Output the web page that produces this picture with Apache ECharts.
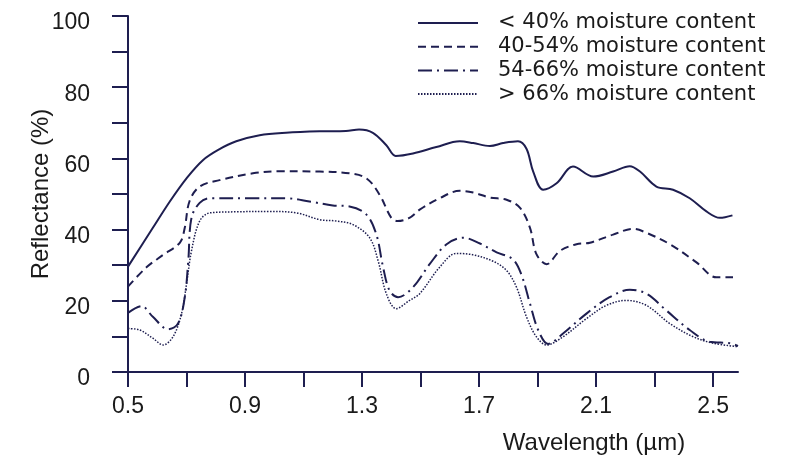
<!DOCTYPE html>
<html>
<head>
<meta charset="utf-8">
<script src="https://cdn.jsdelivr.net/npm/echarts@6/dist/echarts.min.js"></script>
<style>
  html, body { margin: 0; padding: 0; background: #ffffff; }
  #chart { width: 810px; height: 460px; }
</style>
</head>
<body>
<div id="chart"></div>
<script>
// ---- Data ----
const seriesNames = ['< 40% moisture content', '40-54% moisture content', '54-66% moisture content', '> 66% moisture content'];

const xTickValues = [0.5, 0.7, 0.9, 1.1, 1.3, 1.5, 1.7, 1.9, 2.1, 2.3, 2.5];
const xLabelValues = [0.5, 0.9, 1.3, 1.7, 2.1, 2.5];
const yTickValues = [0, 10, 20, 30, 40, 50, 60, 70, 80, 90, 100];
const yLabelValues = [0, 20, 40, 60, 80, 100];

const solidX = [0.5, 0.585, 0.643, 0.70, 0.756, 0.813, 0.87, 0.95, 1.04, 1.155, 1.245, 1.29, 1.337, 1.383, 1.415, 1.474, 1.554, 1.634, 1.68, 1.737, 1.782, 1.833, 1.862, 1.885, 1.919, 1.965, 2.021, 2.09, 2.158, 2.215, 2.25, 2.306, 2.363, 2.42, 2.477, 2.523, 2.566];
const solidY = [29.6, 40.5, 47.9, 54.4, 59.5, 62.6, 64.8, 66.5, 67.2, 67.6, 67.7, 68.1, 67.2, 63.7, 60.7, 61.4, 63.2, 64.8, 64.3, 63.5, 64.3, 64.8, 62.7, 56.3, 51.2, 53.0, 57.7, 54.9, 56.3, 57.8, 56.3, 52.1, 51.2, 48.8, 45.1, 43.3, 44.0];

const dashX = [0.5, 0.563, 0.62, 0.677, 0.694, 0.71, 0.745, 0.813, 0.927, 1.018, 1.155, 1.257, 1.315, 1.36, 1.40, 1.422, 1.462, 1.497, 1.565, 1.634, 1.68, 1.737, 1.794, 1.84, 1.874, 1.896, 1.931, 1.976, 2.033, 2.079, 2.158, 2.227, 2.272, 2.352, 2.443, 2.511, 2.568];
const dashY = [24.0, 29.4, 32.9, 36.3, 40.5, 47.9, 52.1, 53.9, 55.8, 56.4, 56.3, 55.8, 54.4, 49.8, 43.3, 42.4, 43.3, 45.6, 48.8, 50.9, 50.4, 49.0, 48.4, 46.1, 40.5, 33.1, 30.3, 34.0, 35.9, 36.3, 38.6, 40.2, 39.1, 35.9, 30.8, 26.6, 26.6];

const dashDotX = [0.5, 0.546, 0.585, 0.637, 0.671, 0.694, 0.706, 0.717, 0.745, 0.78, 0.927, 1.04, 1.12, 1.20, 1.257, 1.315, 1.349, 1.372, 1.394, 1.423, 1.474, 1.531, 1.589, 1.646, 1.703, 1.76, 1.815, 1.844, 1.874, 1.902, 1.936, 1.987, 2.067, 2.146, 2.215, 2.272, 2.34, 2.42, 2.488, 2.557, 2.585];
const dashDotY = [16.6, 18.5, 15.5, 12.0, 13.6, 21.0, 31.2, 43.3, 47.5, 48.8, 48.8, 48.8, 47.9, 46.8, 46.5, 44.2, 38.6, 29.4, 22.9, 21.0, 23.8, 30.3, 35.9, 37.7, 36.1, 33.6, 31.7, 27.5, 19.2, 11.8, 7.9, 10.8, 16.4, 21.0, 23.1, 22.0, 17.3, 11.8, 8.5, 8.1, 7.3];

const dotX = [0.5, 0.54, 0.585, 0.62, 0.654, 0.683, 0.70, 0.717, 0.745, 0.78, 0.87, 0.984, 1.076, 1.155, 1.212, 1.269, 1.326, 1.355, 1.383, 1.417, 1.462, 1.497, 1.565, 1.622, 1.68, 1.748, 1.794, 1.828, 1.862, 1.896, 1.931, 1.987, 2.067, 2.135, 2.203, 2.272, 2.352, 2.432, 2.50, 2.585];
const dotY = [12.2, 11.8, 9.5, 7.6, 9.9, 16.4, 24.7, 34.0, 42.4, 44.7, 45.0, 45.1, 44.7, 42.8, 42.4, 41.4, 37.7, 31.2, 22.0, 17.8, 20.1, 22.0, 29.4, 33.3, 32.9, 31.1, 28.5, 23.8, 15.5, 9.9, 7.6, 9.9, 15.0, 18.7, 20.1, 18.7, 13.6, 9.9, 8.1, 7.1];

// ---- Chart ----
const NAVY = '#1e1e50';
const TEXT = '#1a1a1a';
const pairs = (xs, ys) => xs.map((x, i) => [x, ys[i]]);

const chart = echarts.init(document.getElementById('chart'), null, { renderer: 'canvas' });

function lineSeries(name, xs, ys, type, width) {
  return {
    name: name,
    type: 'line',
    data: pairs(xs, ys),
    smooth: 0.35,
    symbol: 'none',
    showSymbol: false,
    animation: false,
    lineStyle: { color: NAVY, width: width, type: type, cap: 'butt' },
    itemStyle: { color: NAVY }
  };
}

chart.setOption({
  backgroundColor: '#ffffff',
  animation: false,
  grid: { left: 128, right: 72, top: 16, bottom: 84.5, containLabel: false },
  legend: {
    orient: 'vertical',
    left: 412,
    top: 7,
    itemWidth: 60,
    itemHeight: 12,
    itemGap: 1.7,
    data: seriesNames,
    itemStyle: { opacity: 0 },
    textStyle: {
      fontFamily: 'DejaVu Sans',
      fontSize: 21,
      color: TEXT,
      lineHeight: 22,
      padding: [0, 0, 0, 15]
    }
  },
  xAxis: {
    type: 'value',
    min: 0.5,
    max: 2.585,
    name: 'Wavelength (\u00b5m)',
    nameLocation: 'middle',
    nameGap: 59,
    nameMoveOverlap: false,
    nameTextStyle: {
      fontFamily: 'Liberation Sans',
      fontSize: 24,
      color: TEXT,
      padding: [0, 0, 0, 322]
    },
    axisLine: { show: true, lineStyle: { color: NAVY, width: 2 } },
    axisTick: {
      show: true,
      customValues: xTickValues,
      length: 15,
      lineStyle: { color: NAVY, width: 2 }
    },
    axisLabel: {
      customValues: xLabelValues,
      margin: 23,
      fontFamily: 'Liberation Sans',
      fontSize: 23,
      color: TEXT,
      formatter: v => v.toFixed(1)
    },
    splitLine: { show: false }
  },
  yAxis: {
    type: 'value',
    min: 0,
    max: 100,
    name: 'Reflectance (%)',
    nameLocation: 'middle',
    nameRotate: 90,
    nameGap: 75,
    nameMoveOverlap: false,
    nameTextStyle: {
      fontFamily: 'Liberation Sans',
      fontSize: 24,
      color: TEXT
    },
    axisLine: { show: true, lineStyle: { color: NAVY, width: 2 } },
    axisTick: {
      show: true,
      customValues: yTickValues,
      length: 16,
      lineStyle: { color: NAVY, width: 2 }
    },
    axisLabel: {
      customValues: yLabelValues,
      margin: 38,
      fontFamily: 'Liberation Sans',
      fontSize: 23,
      color: TEXT,
      verticalAlign: 'top',
      lineHeight: 14
    },
    splitLine: { show: false }
  },
  series: [
    lineSeries(seriesNames[0], solidX, solidY, 'solid', 2),
    lineSeries(seriesNames[1], dashX, dashY, [8, 5], 2),
    lineSeries(seriesNames[2], dashDotX, dashDotY, [14, 5, 2, 5], 2),
    lineSeries(seriesNames[3], dotX, dotY, [1.5, 1.5], 1.5)
  ]
});
</script>
</body>
</html>
